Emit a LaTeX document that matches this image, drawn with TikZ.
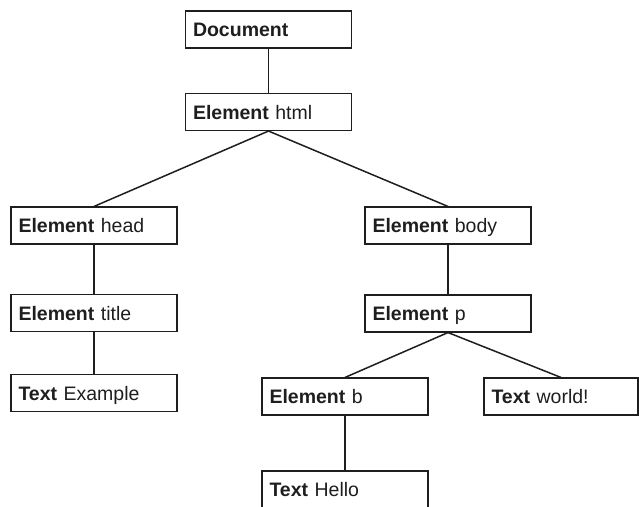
\documentclass[tikz,border=0pt]{standalone}
\usepackage{fontspec}
\setmainfont{Liberation Sans}
\definecolor{ink}{RGB}{30,30,30}
\begin{document}
\begin{tikzpicture}[x=1pt,y=-1pt,
  dombox/.style={draw=ink, line width=1.1pt, rectangle, minimum height=37pt,
    minimum width=166pt, text width=151pt, inner xsep=7.5pt, inner ysep=0pt,
    align=left, text height=16pt, text depth=2pt, text=ink,
    font=\fontsize{19.5}{22}\selectfont},
  link/.style={draw=ink, line width=1.5pt}]
\useasboundingbox (0,0) rectangle (639,506);
\node[dombox] (doc) at (268.5,29.5) {\textbf{Document}};
\node[dombox] (html) at (268.5,112) {\textbf{Element} html};
\node[dombox] (head) at (94,225.5) {\textbf{Element} head};
\node[dombox] (body) at (448,225.5) {\textbf{Element} body};
\node[dombox] (title) at (94,313) {\textbf{Element} title};
\node[dombox] (example) at (94,393) {\textbf{Text} Example};
\node[dombox] (p) at (448,313.5) {\textbf{Element} p};
\node[dombox] (b) at (345,396.5) {\textbf{Element} b};
\node[dombox, minimum width=154pt, text width=139pt] (world) at (561,396.5) {\textbf{Text} world!};
\node[dombox, minimum height=42pt, text height=10pt, text depth=2pt] (hello) at (345,492) {\textbf{Text} Hello};
\draw[link] (doc.south) -- (html.north);
\draw[link] (html.south) -- (head.north);
\draw[link] (html.south) -- (body.north);
\draw[link] (head.south) -- (title.north);
\draw[link] (title.south) -- (example.north);
\draw[link] (body.south) -- (p.north);
\draw[link] (p.south) -- (b.north);
\draw[link] (p.south) -- (world.north);
\draw[link] (b.south) -- (hello.north);
\end{tikzpicture}
\end{document}
